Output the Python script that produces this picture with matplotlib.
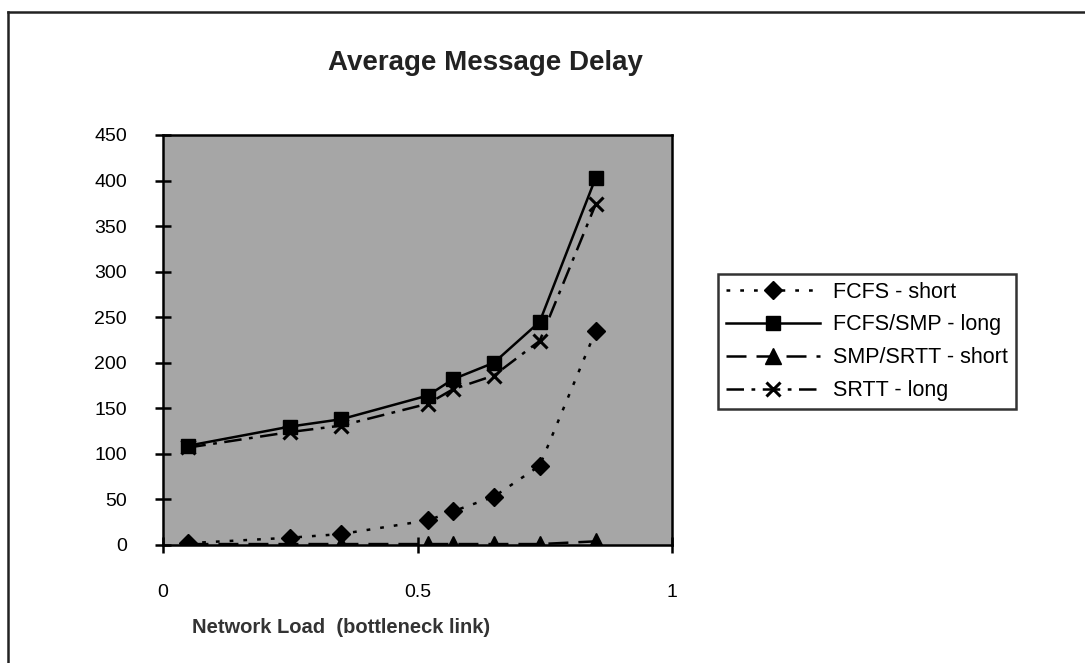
import matplotlib
matplotlib.use("Agg")
import matplotlib.pyplot as plt
from matplotlib.lines import Line2D

plt.rcParams['font.family'] = ['Liberation Sans', 'DejaVu Sans']

# data
load = [0.05, 0.25, 0.35, 0.52, 0.57, 0.65, 0.74, 0.85]
fcfs_short = [2, 8, 12, 27, 37, 53, 87, 235]
fcfs_smp_long = [109, 130, 138, 164, 182, 200, 245, 403]
smp_srtt_short = [1, 1, 1, 1, 1, 1, 1, 4]
srtt_long = [107, 124, 131, 155, 171, 186, 224, 374]

labels = ['FCFS - short', 'FCFS/SMP - long', 'SMP/SRTT - short', 'SRTT - long']
yticks = [0, 50, 100, 150, 200, 250, 300, 350, 400, 450]
xticks = [0, 0.5, 1]

fig = plt.figure(figsize=(10.85, 6.63), dpi=100)
ax = fig.add_axes([0.1502, 0.1780, 0.4692, 0.6184])
ax.set_facecolor('#a6a6a6')

ax.plot(load, fcfs_short, color='black', lw=1.8, linestyle=(0, (1.5, 4)),
        marker='D', ms=9, label=labels[0])
ax.plot(load, fcfs_smp_long, color='black', lw=1.8, linestyle='-',
        marker='s', ms=10, label=labels[1])
ax.plot(load, smp_srtt_short, color='black', lw=1.8, linestyle=(0, (8, 4)),
        marker='^', ms=11, label=labels[2])
ax.plot(load, srtt_long, color='black', lw=1.8, linestyle=(0, (7, 3, 1.5, 3)),
        marker='x', ms=10, mew=2.2, label=labels[3])

ax.set_xlim(0, 1)
ax.set_ylim(0, 450)
ax.set_xticks(xticks)
ax.set_xticklabels(['0', '0.5', '1'])
ax.set_yticks(yticks)
ax.tick_params(axis='both', direction='inout', length=12, width=1.8,
               labelsize=14, colors='black')
ax.tick_params(axis='x', pad=22)
ax.tick_params(axis='y', pad=20)
for s in ax.spines.values():
    s.set_linewidth(1.8)
    s.set_color('black')

fig.text(0.302, 0.894, 'Average Message Delay', ha='left', va='baseline',
         fontsize=20, fontweight='bold', color='#222222')
fig.text(0.177, 0.054, 'Network Load  (bottleneck link)', ha='left', va='center',
         fontsize=14.5, fontweight='bold', color='#333333')

leg = fig.legend(loc='upper left', bbox_to_anchor=(0.6618, 0.5867),
                 fontsize=15.5, frameon=True, fancybox=False, handlelength=4.4,
                 borderpad=0.35, labelspacing=0.55, handletextpad=0.6,
                 borderaxespad=0)
leg.get_frame().set_edgecolor('black')
leg.get_frame().set_linewidth(1.8)

# outer chart border (top and left visible)
fig.add_artist(Line2D([0.0074, 1.0], [0.982, 0.982], color='#222222', lw=1.8,
                      transform=fig.transFigure))
fig.add_artist(Line2D([0.0074, 0.0074], [0.0, 0.982], color='#222222', lw=1.8,
                      transform=fig.transFigure))

fig.savefig('out.png', dpi=100)
